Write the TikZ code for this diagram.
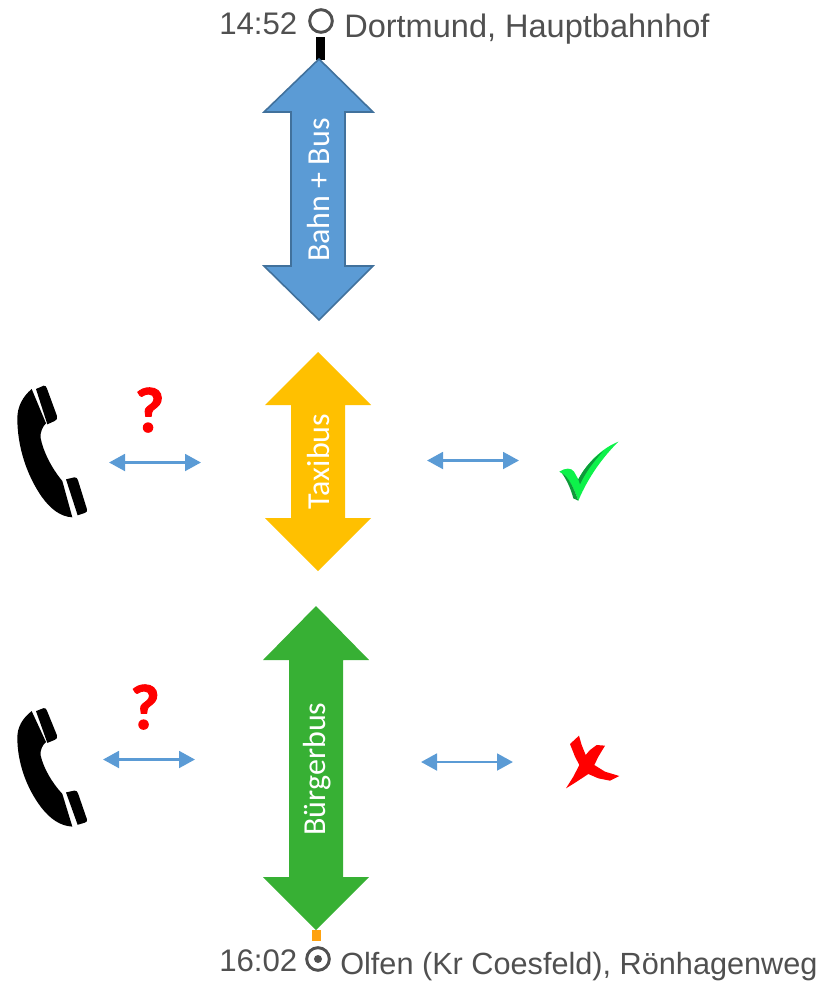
\documentclass[tikz,border=0pt]{standalone}
\usepackage{fontspec}
\setmainfont{Liberation Sans}
\newfontfamily\carl{Carlito}
\newfontfamily\qfont[BoldFeatures={FakeBold=1.5}]{Carlito}
\usetikzlibrary{arrows.meta}
\definecolor{bluefill}{HTML}{5B9BD5}
\definecolor{blueline}{HTML}{41719C}
\definecolor{yellowfill}{HTML}{FFC000}
\definecolor{greenfill}{HTML}{37B034}
\definecolor{linkblue}{HTML}{5B9BD5}
\definecolor{greytext}{HTML}{505050}
\definecolor{orangebar}{HTML}{FFA20F}
\definecolor{checkbright}{HTML}{0DF24A}
\definecolor{checkdark}{HTML}{0E9A3A}
\tikzset{
  x=0.75pt,y=-0.75pt,
  stoptext/.style={text=greytext,inner sep=0pt,anchor=base west},
  biglabel/.style={text=white,font=\carl\fontsize{24}{28}\selectfont,rotate=90,inner sep=0pt},
  link/.style={draw=linkblue,line width=2.2pt,{Triangle[length=12pt,width=12.5pt]}-{Triangle[length=12pt,width=12.5pt]}},
  qmark/.style={text=red,font=\qfont\bfseries\fontsize{48}{54}\selectfont,inner sep=0pt},
  stopring/.style={circle,draw=greytext,line width=2.2pt,minimum size=17pt,inner sep=0pt},
  pics/handset/.style={code={
    \fill[black,scale=1/3,line join=round] (65,27)
      .. controls (38,50) and (22,80) .. (22,115)
      .. controls (22,200) and (50,285) .. (95,350)
      .. controls (120,385) and (150,410) .. (187,412)
      -- (157,303)
      .. controls (125,265) and (100,215) .. (92,175)
      .. controls (90,155) and (98,140) .. (108,130) -- cycle;
    \fill[black,scale=1/3] (78,27) -- (101,17) .. controls (106,16) and (109,20) .. (111,26)
      -- (141,108) .. controls (143,116) and (140,120) .. (134,123) -- (112,133) -- cycle;
    \fill[black,scale=1/3] (168,298) -- (193,292) .. controls (199,291) and (202,295) .. (204,301)
      -- (231,388) .. controls (232,394) and (230,397) .. (224,399) -- (203,406) -- cycle;
  }}
}
\begin{document}
\begin{tikzpicture}
\useasboundingbox (0,0) rectangle (822,984);
% stop bars
\fill[black] (316,37) rectangle (325,60);
\fill[orangebar] (312,930) rectangle (321,941);
% big arrows
\filldraw[fill=bluefill,draw=blueline,line width=1.2pt,line join=miter]
  (319,59) -- (373,112) -- (345,112) -- (345,266) -- (373,266) -- (319,320)
  -- (264,266) -- (291,266) -- (291,112) -- (264,112) -- cycle;
\node[biglabel] (bahn) at (319,190) {Bahn + Bus};
\fill[yellowfill]
  (318,352) -- (371,405) -- (345,405) -- (345,518) -- (371,518) -- (318,571)
  -- (265,518) -- (291,518) -- (291,405) -- (265,405) -- cycle;
\node[biglabel] (taxi) at (319,461.5) {Taxibus};
\fill[greenfill]
  (316,606) -- (369,660) -- (343,660) -- (343,877) -- (369,877) -- (316,930)
  -- (263,877) -- (289,877) -- (289,660) -- (263,660) -- cycle;
\node[biglabel] (buerger) at (317,769) {Bürgerbus};
% top stop
\node[stoptext,font=\fontsize{23.4}{26}\selectfont] (t1) at (219,35) {14:52};
\node[stopring] (s1) at (321,21) {};
\node[stoptext,font=\fontsize{24.4}{27}\selectfont] (n1) at (344,38) {Dortmund, Hauptbahnhof};
% bottom stop
\node[stoptext,font=\fontsize{23.4}{26}\selectfont] (t2) at (219,971) {16:02};
\node[stopring] (s2) at (318,959) {};
\fill[greytext] (s2.center) circle (4);
\node[stoptext,font=\fontsize{23}{26}\selectfont] (n2) at (340,974) {Olfen (Kr Coesfeld), Rönhagenweg};
% phones
\pic at (10,380) {handset};
\pic[yscale=0.9] at (10,703) {handset};
% question marks
\node[qmark] (q1) at (149.5,410) {?};
\node[qmark] (q2) at (145,707) {?};
% small arrows
\coordinate (a1l) at (109,462.5); \coordinate (a1r) at (201,462.5);
\coordinate (a2l) at (427,460.5); \coordinate (a2r) at (519,460.5);
\coordinate (a3l) at (103,759.5); \coordinate (a3r) at (195,759.5);
\coordinate (a4l) at (421,762); \coordinate (a4r) at (513,762);
\draw[link] (a1l) -- (a1r);
\draw[link] (a2l) -- (a2r);
\draw[link] (a3l) -- (a3r);
\draw[link] (a4l) -- (a4r);
% check mark
\begin{scope}[shift={(550,435)},scale=1/3]
\fill[checkbright] (28,110) .. controls (45,98) and (65,98) .. (72,110) -- (85,133)
  .. controls (110,85) and (155,40) .. (205,20)
  .. controls (160,65) and (115,125) .. (85,197)
  .. controls (72,160) and (55,125) .. (28,110) -- cycle;
\fill[checkdark] (85,133) .. controls (105,95) and (130,70) .. (160,48)
  .. controls (130,80) and (105,115) .. (90,148) -- cycle;
\fill[checkdark] (36,115) .. controls (55,125) and (72,160) .. (85,197)
  -- (70,190) .. controls (62,160) and (50,135) .. (36,115) -- cycle;
\end{scope}
% cross
\begin{scope}[shift={(555,730)},scale=1/3]
\fill[red] (72,17) -- (45,42) -- (60,80) -- (73,105) -- (55,140) -- (33,175)
  -- (65,155) -- (100,132) -- (130,145) -- (165,152) -- (193,138) -- (150,125)
  -- (118,105) -- (130,80) -- (150,47) -- (125,45) -- (105,60) -- (92,75) -- (80,45) -- cycle;
\end{scope}
\end{tikzpicture}
\end{document}
